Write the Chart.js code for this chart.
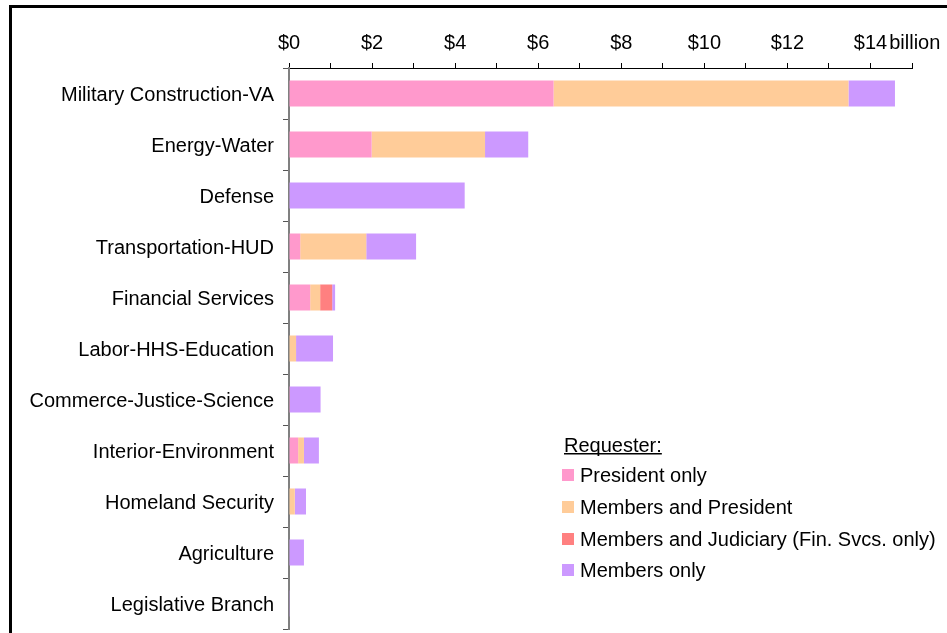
<!DOCTYPE html>
<html>
<head>
<meta charset="utf-8">
<script src="https://cdn.jsdelivr.net/npm/chart.js@4/dist/chart.umd.min.js"></script>
<style>
  html,body{margin:0;padding:0;background:#fff;}
  #wrap{width:947px;height:633px;}
</style>
</head>
<body>
<div id="wrap"><canvas id="c" width="947" height="633"></canvas></div>
<script>
const categories = ["Military Construction-VA","Energy-Water","Defense","Transportation-HUD","Financial Services","Labor-HHS-Education","Commerce-Justice-Science","Interior-Environment","Homeland Security","Agriculture","Legislative Branch"];
const presidentOnly        = [6.37, 1.99, 0,    0.27, 0.51, 0,    0.02, 0.22, 0,    0,    0];
const membersAndPresident  = [7.10, 2.73, 0,    1.59, 0.24, 0.17, 0,    0.14, 0.14, 0,    0];
const membersAndJudiciary  = [0,    0,    0,    0,    0.29, 0,    0,    0,    0,    0,    0];
const membersOnly          = [1.12, 1.04, 4.23, 1.20, 0.07, 0.89, 0.74, 0.36, 0.27, 0.36, 0.005];
const seriesNames = ["President only","Members and President","Members and Judiciary (Fin. Svcs. only)","Members only"];
const seriesColors = ["#FF99CC","#FFCC99","#FF8080","#CC99FF"];
const xTickMax = 15;

const FONT = "'Liberation Sans', Arial, sans-serif";

const framePlugin = {
  id:'frame',
  beforeDraw(chart){
    const ctx = chart.ctx;
    ctx.save();
    ctx.fillStyle='#fff';
    ctx.fillRect(0,0,chart.width,chart.height);
    ctx.strokeStyle='#000';
    ctx.lineWidth=3;
    ctx.strokeRect(10.5,6.5,1200,1200);
    ctx.restore();
  }
};

const legendPlugin = {
  id:'customLegend',
  afterDraw(chart){
    const ctx = chart.ctx;
    ctx.save();
    ctx.font = "20px " + FONT;
    ctx.fillStyle = '#000';
    ctx.textBaseline = 'alphabetic';
    ctx.textAlign = 'left';
    const title = "Requester:";
    ctx.fillText(title, 564, 452);
    const w = ctx.measureText(title).width;
    ctx.fillRect(564, 453, w, 1.5);
    const ds = chart.data.datasets;
    const rows = [475, 507, 539, 570];
    ds.forEach((d,i)=>{
      ctx.fillStyle = d.backgroundColor;
      ctx.fillRect(562, rows[i]-6, 12, 12);
      ctx.fillStyle = '#000';
      ctx.textBaseline = 'middle';
      ctx.fillText(d.label, 580, rows[i]+1);
    });
    ctx.restore();
  }
};

new Chart(document.getElementById('c'), {
  type:'bar',
  data:{
    labels:categories,
    datasets:[
      {label:seriesNames[0], data:presidentOnly, backgroundColor:seriesColors[0]},
      {label:seriesNames[1], data:membersAndPresident, backgroundColor:seriesColors[1]},
      {label:seriesNames[2], data:membersAndJudiciary, backgroundColor:seriesColors[2]},
      {label:seriesNames[3], data:membersOnly, backgroundColor:seriesColors[3]}
    ]
  },
  options:{
    indexAxis:'y',
    responsive:false,
    animation:false,
    devicePixelRatio:1,
    layout:{padding:{left:0,top:0,right:35,bottom:4}},
    datasets:{bar:{barPercentage:0.51,categoryPercentage:1.0,borderWidth:0}},
    plugins:{legend:{display:false},tooltip:{enabled:false}},
    scales:{
      x:{
        position:'top',
        stacked:true,
        min:0,max:xTickMax,
        afterFit(s){ s.height = 68; s.paddingLeft = 0; s.paddingRight = 0; },
        grid:{drawOnChartArea:false,drawTicks:true,tickLength:5,color:'#000',lineWidth:1},
        border:{display:true,color:'#000',width:1},
        ticks:{
          stepSize:1,autoSkip:false,maxRotation:0,padding:8,
          color:'#000',font:{family:FONT,size:20},
          callback(v){ if(v===xTickMax) return ' billion'; return v%2===0 ? '$'+v : ''; }
        }
      },
      y:{
        stacked:true,
        afterFit(s){ s.width = 289; s.paddingTop = 0; s.paddingBottom = 0; },
        grid:{drawOnChartArea:false,drawTicks:true,tickLength:6,color:'#555',offset:true},
        border:{display:true,color:'#808080',width:2},
        ticks:{color:'#000',padding:9,labelOffset:2,font:{family:FONT,size:20}}
      }
    }
  },
  plugins:[framePlugin, legendPlugin]
});
</script>
</body>
</html>
